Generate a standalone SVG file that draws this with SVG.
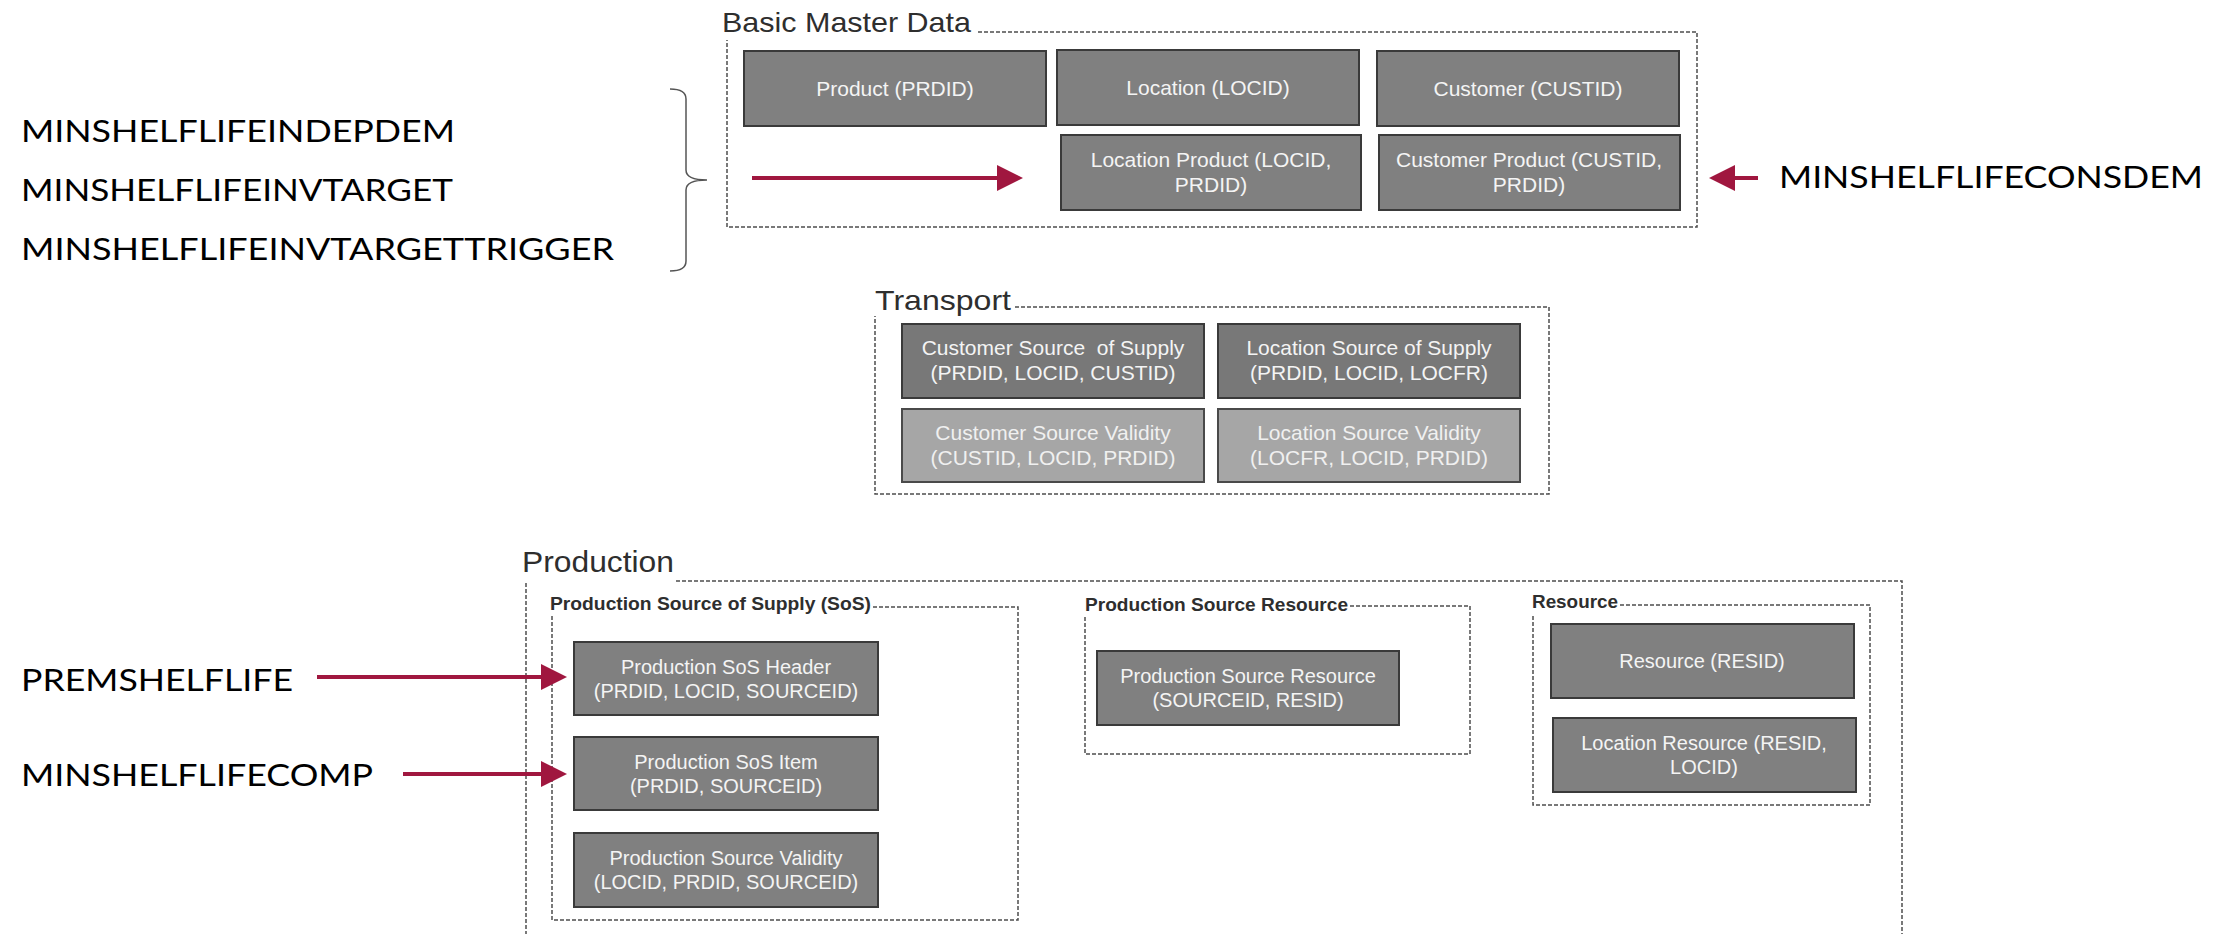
<svg xmlns="http://www.w3.org/2000/svg" width="2231" height="934" viewBox="0 0 2231 934">
<defs>
<style>
.box{fill:#808080;stroke:#3a3a3a;stroke-width:2}
.boxl{fill:#a6a6a6;stroke:#4a4a4a;stroke-width:2}
.t{font-family:"Liberation Sans",Arial,sans-serif;font-size:21px;fill:#f4f4f4;text-anchor:middle}
.tp{font-family:"Liberation Sans",Arial,sans-serif;font-size:20px;fill:#f4f4f4;text-anchor:middle}
.tl{fill:#f0f0f0}
.dash{fill:none;stroke:#4d4d4d;stroke-width:1.5;stroke-dasharray:4 2}
.title{font-family:"Liberation Sans",Arial,sans-serif;font-size:28px;fill:#2e2e2e}
.sub{font-family:"Liberation Sans",Arial,sans-serif;font-size:18px;font-weight:bold;fill:#2e2e2e}
.lbl{font-family:Lato,"Liberation Sans",sans-serif;font-size:31px;fill:#000}
.arr{stroke:#A0173F;stroke-width:4;fill:none;marker-end:url(#ah)}
.brace{fill:none;stroke:#555;stroke-width:1.5}
</style>
<marker id="ah" viewBox="0 0 26 26" refX="6" refY="13" markerWidth="26" markerHeight="26" markerUnits="userSpaceOnUse" orient="auto">
<path d="M0,0 L26,13 L0,26 z" fill="#A0173F"/>
</marker>
</defs>
<rect width="2231" height="934" fill="#fff"/>

<g id="basic-master-data">
<text class="title" x="722" y="32" textLength="249" lengthAdjust="spacingAndGlyphs">Basic Master Data</text>
<path class="dash" d="M978,32 H1697 V227 H727 V40"/>
</g>
<g id="product">
<rect class="box" x="744" y="51" width="302" height="75"/>
<text class="t" x="895" y="96">Product (PRDID)</text>
</g>
<g id="location">
<rect class="box" x="1057" y="50" width="302" height="75"/>
<text class="t" x="1208" y="95">Location (LOCID)</text>
</g>
<g id="customer">
<rect class="box" x="1377" y="51" width="302" height="75"/>
<text class="t" x="1528" y="96">Customer (CUSTID)</text>
</g>
<g id="location-product">
<rect class="box" x="1061" y="135" width="300" height="75"/>
<text class="t" x="1211" y="167">Location Product (LOCID,</text>
<text class="t" x="1211" y="192">PRDID)</text>
</g>
<g id="customer-product">
<rect class="box" x="1379" y="135" width="301" height="75"/>
<text class="t" x="1529" y="167">Customer Product (CUSTID,</text>
<text class="t" x="1529" y="192">PRDID)</text>
</g>

<g id="transport">
<text class="title" x="875" y="310" textLength="136" lengthAdjust="spacingAndGlyphs">Transport</text>
<path class="dash" d="M1015,307 H1549 V494 H875 V316"/>
</g>
<g id="customer-sos">
<rect class="box" x="902" y="324" width="302" height="74" style="fill:#787878"/>
<text class="t" x="1053" y="355" style="white-space:pre">Customer Source  of Supply</text>
<text class="t" x="1053" y="380">(PRDID, LOCID, CUSTID)</text>
</g>
<g id="location-sos">
<rect class="box" x="1218" y="324" width="302" height="74" style="fill:#787878"/>
<text class="t" x="1369" y="355">Location Source of Supply</text>
<text class="t" x="1369" y="380">(PRDID, LOCID, LOCFR)</text>
</g>
<g id="customer-source-validity">
<rect class="boxl" x="902" y="409" width="302" height="73"/>
<text class="t tl" x="1053" y="440">Customer Source Validity</text>
<text class="t tl" x="1053" y="465">(CUSTID, LOCID, PRDID)</text>
</g>
<g id="location-source-validity">
<rect class="boxl" x="1218" y="409" width="302" height="73"/>
<text class="t tl" x="1369" y="440">Location Source Validity</text>
<text class="t tl" x="1369" y="465">(LOCFR, LOCID, PRDID)</text>
</g>

<g id="production">
<text class="title" x="522" y="572" style="font-size:30px" textLength="152" lengthAdjust="spacingAndGlyphs">Production</text>
<path class="dash" d="M676,581 H1902 V934 M526,583 V934"/>
</g>
<g id="production-sos">
<text class="sub" x="550" y="610" textLength="321" lengthAdjust="spacingAndGlyphs">Production Source of Supply (SoS)</text>
<path class="dash" d="M873,607 H1018 V920 H552 V615"/>
</g>
<g id="production-sos-header">
<rect class="box" x="574" y="642" width="304" height="73"/>
<text class="tp" x="726" y="674">Production SoS Header</text>
<text class="tp" x="726" y="698">(PRDID, LOCID, SOURCEID)</text>
</g>
<g id="production-sos-item">
<rect class="box" x="574" y="737" width="304" height="73"/>
<text class="tp" x="726" y="769">Production SoS Item</text>
<text class="tp" x="726" y="793">(PRDID, SOURCEID)</text>
</g>
<g id="production-source-validity">
<rect class="box" x="574" y="833" width="304" height="74"/>
<text class="tp" x="726" y="865">Production Source Validity</text>
<text class="tp" x="726" y="889">(LOCID, PRDID, SOURCEID)</text>
</g>
<g id="production-source-resource-group">
<text class="sub" x="1085" y="611" textLength="263" lengthAdjust="spacingAndGlyphs">Production Source Resource</text>
<path class="dash" d="M1350,606 H1470 V754 H1085 V617"/>
</g>
<g id="production-source-resource">
<rect class="box" x="1097" y="651" width="302" height="74"/>
<text class="tp" x="1248" y="683">Production Source Resource</text>
<text class="tp" x="1248" y="707">(SOURCEID, RESID)</text>
</g>
<g id="resource-group">
<text class="sub" x="1532" y="608" textLength="86" lengthAdjust="spacingAndGlyphs">Resource</text>
<path class="dash" d="M1620,605 H1870 V805 H1533 V615"/>
</g>
<g id="resource">
<rect class="box" x="1551" y="624" width="303" height="74"/>
<text class="tp" x="1702" y="668">Resource (RESID)</text>
</g>
<g id="location-resource">
<rect class="box" x="1553" y="718" width="303" height="74"/>
<text class="tp" x="1704" y="750">Location Resource (RESID,</text>
<text class="tp" x="1704" y="774">LOCID)</text>
</g>

<g id="label-minshelflife-group">
<text class="lbl" x="21" y="142" textLength="434" lengthAdjust="spacingAndGlyphs">MINSHELFLIFEINDEPDEM</text>
<text class="lbl" x="21" y="201" textLength="432" lengthAdjust="spacingAndGlyphs">MINSHELFLIFEINVTARGET</text>
<text class="lbl" x="21" y="260" textLength="593" lengthAdjust="spacingAndGlyphs">MINSHELFLIFEINVTARGETTRIGGER</text>
<path class="brace" d="M670,89 Q686,89 686,99 V170 Q686,180 707,180 Q686,180 686,190 V261 Q686,271 670,271"/>
</g>
<g id="label-consdem">
<text class="lbl" x="1779" y="188" textLength="424" lengthAdjust="spacingAndGlyphs">MINSHELFLIFECONSDEM</text>
</g>
<g id="label-premshelflife">
<text class="lbl" x="21" y="691" textLength="272" lengthAdjust="spacingAndGlyphs">PREMSHELFLIFE</text>
</g>
<g id="label-minshelflifecomp">
<text class="lbl" x="21" y="786" textLength="352" lengthAdjust="spacingAndGlyphs">MINSHELFLIFECOMP</text>
</g>

<g id="connectors">
<line class="arr" x1="752" y1="178" x2="1003" y2="178"/>
<line class="arr" x1="1758" y1="178" x2="1729" y2="178"/>
<line class="arr" x1="317" y1="677" x2="547" y2="677"/>
<line class="arr" x1="403" y1="774" x2="547" y2="774"/>
</g>
</svg>
